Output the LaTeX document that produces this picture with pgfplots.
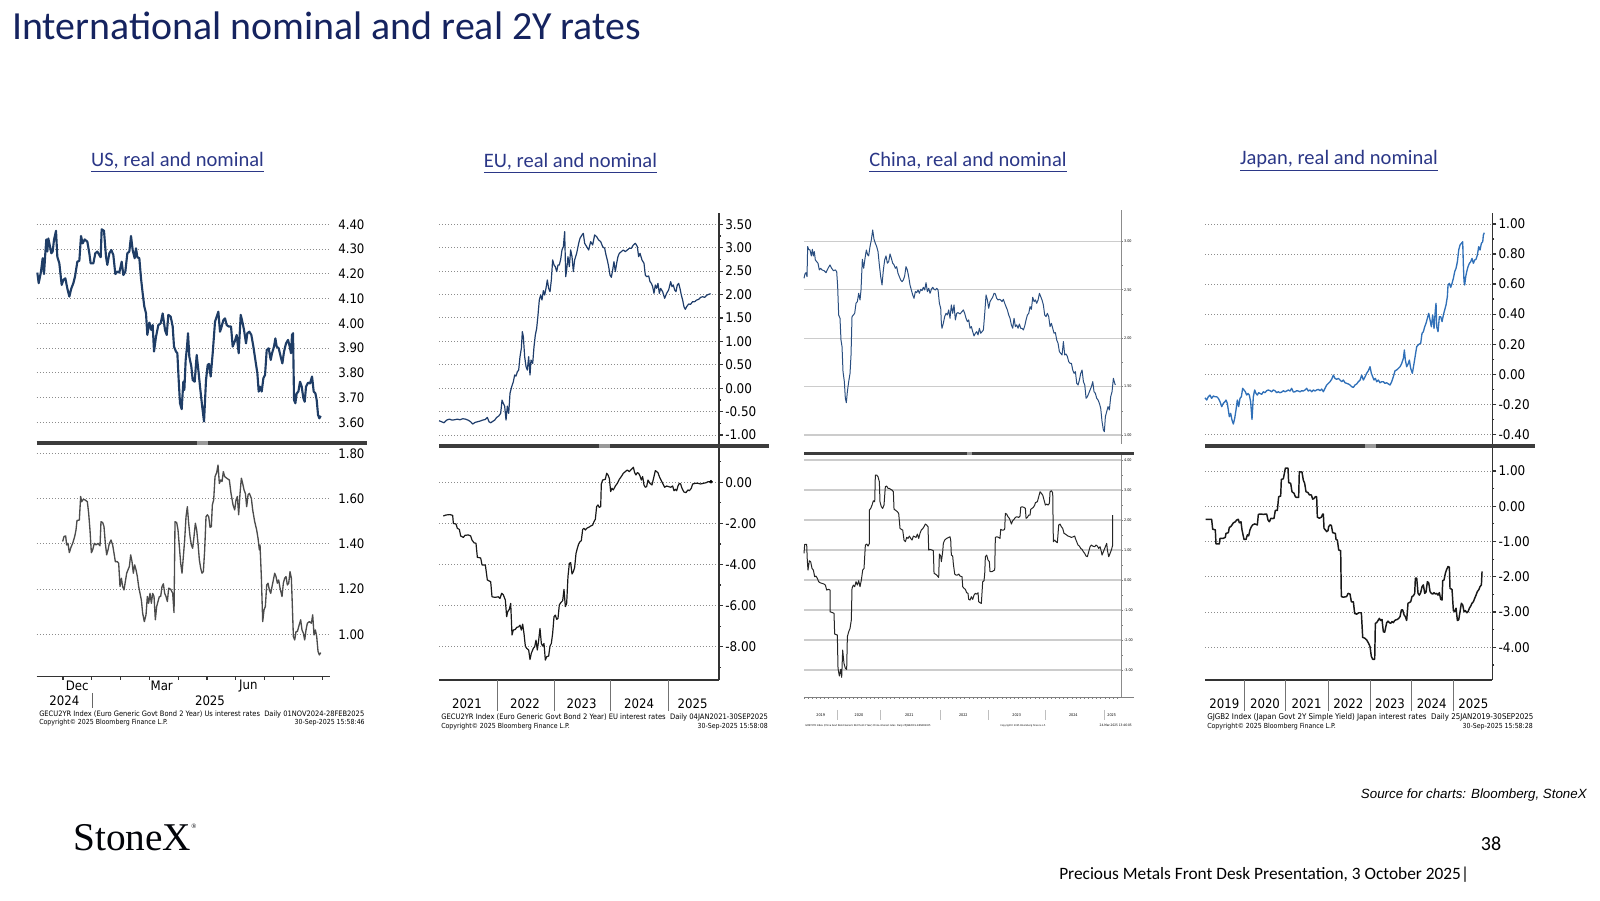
\documentclass[border=0pt]{standalone}
\usepackage{fontspec}
\usepackage{graphicx}
\usepackage{pgfplots}
\pgfplotsset{compat=1.18}
\setmainfont{Carlito}
\newfontfamily\bbg{DejaVu Sans}[FakeStretch=0.9]
\newfontfamily\arialf{Liberation Sans}
\newfontfamily\tnr{Liberation Serif}
\definecolor{navy}{HTML}{15235F}
\definecolor{subblue}{HTML}{2B3787}
\definecolor{usblue}{HTML}{1F3D66}
\definecolor{eublue}{HTML}{1F3D6B}
\definecolor{cnblue}{HTML}{2A4E80}
\definecolor{jpblue}{HTML}{3070B8}
\definecolor{axisgray}{HTML}{333333}
\definecolor{sepgray}{HTML}{3C3C3C}
\pgfplotsset{
  bb/.style={
    scale only axis, clip=false,
    axis line style={draw=none},
    xtick=\empty,
    ytick pos=right, yticklabel pos=right,
    tick align=outside,
    ymajorgrids,
    grid style={color=black!45, line width=0.7pt, dash pattern=on 0.7pt off 1.6pt},
    /pgf/number format/fixed, /pgf/number format/fixed zerofill,
    /pgf/number format/precision=2, /pgf/number format/assume math mode=true,
    yticklabel style={anchor=west, inner sep=0pt},
    tick style={color=axisgray, line width=0.9pt},
    major tick length=3pt, minor tick length=1.5pt,
  },
}
\begin{document}
\begin{tikzpicture}
\path (0,0) rectangle (1200pt,675pt);

% ================= US =================
\begin{axis}[bb, at={(27.53pt,347.14pt)}, anchor=south west, width=219.98pt, height=168.9pt,
  xmin=0.087, xmax=10.27, ymin=3.54, ymax=4.45,
  ytick={3.6,3.7,3.8,3.9,4.0,4.1,4.2,4.3,4.4}, ytick style={draw=none}, major tick length=0pt,
  yticklabel style={font=\bbg\fontsize{9.8}{10}\selectfont, xshift=6pt}]
\addplot[usblue, line width=1.6pt, line join=round] coordinates {
(0.109,4.205)(0.155,4.162)(0.236,4.209)(0.294,4.263)(0.340,4.199)(0.386,4.283)(0.421,4.339)(0.456,4.290)(0.491,4.343)(0.548,4.310)(0.595,4.283)(0.641,4.290)(0.687,4.337)(0.757,4.374)(0.803,4.269)(0.873,4.242)(0.954,4.155)(1.011,4.175)(1.081,4.182)(1.150,4.141)(1.220,4.108)(1.289,4.141)(1.359,4.162)(1.417,4.189)(1.498,4.249)(1.567,4.253)(1.625,4.353)(1.683,4.323)(1.752,4.339)(1.845,4.330)(1.914,4.283)(1.960,4.242)(2.053,4.242)(2.122,4.283)(2.192,4.290)(2.261,4.276)(2.308,4.267)(2.342,4.380)(2.423,4.374)(2.493,4.269)(2.539,4.236)(2.609,4.283)(2.678,4.296)(2.747,4.276)(2.817,4.199)(2.886,4.209)(2.956,4.205)(3.037,4.249)(3.095,4.195)(3.164,4.209)(3.234,4.283)(3.303,4.290)(3.361,4.353)(3.419,4.296)(3.488,4.263)(3.535,4.303)(3.581,4.267)(3.650,4.263)(3.708,4.182)(3.766,4.121)(3.824,4.067)(3.882,4.040)(3.928,3.953)(3.998,4.003)(4.067,3.973)(4.113,3.993)(4.160,3.886)(4.229,3.946)(4.310,3.993)(4.391,4.000)(4.461,4.040)(4.542,3.973)(4.600,3.953)(4.657,4.034)(4.738,4.027)(4.808,3.987)(4.854,3.906)(4.923,3.886)(4.970,3.879)(5.016,3.771)(5.062,3.677)(5.120,3.653)(5.178,3.764)(5.213,3.731)(5.259,3.852)(5.306,3.906)(5.340,3.960)(5.386,3.865)(5.456,3.825)(5.502,3.771)(5.572,3.764)(5.641,3.872)(5.699,3.811)(5.757,3.744)(5.826,3.670)(5.896,3.603)(5.965,3.771)(6.023,3.832)(6.069,3.836)(6.127,3.785)(6.197,3.879)(6.278,4.007)(6.336,4.027)(6.393,4.047)(6.451,3.966)(6.509,3.987)(6.567,4.013)(6.625,4.020)(6.683,3.993)(6.752,3.987)(6.833,3.987)(6.891,3.906)(6.961,3.926)(7.030,3.953)(7.099,3.879)(7.169,4.034)(7.215,4.013)(7.285,3.973)(7.354,3.919)(7.400,3.960)(7.470,3.966)(7.539,3.953)(7.609,3.906)(7.678,3.852)(7.748,3.798)(7.794,3.724)(7.840,3.744)(7.898,3.724)(7.956,3.778)(8.014,3.791)(8.072,3.892)(8.141,3.899)(8.211,3.852)(8.257,3.879)(8.326,3.906)(8.373,3.939)(8.419,3.906)(8.488,3.899)(8.558,3.865)(8.616,3.838)(8.674,3.886)(8.743,3.919)(8.813,3.933)(8.870,3.906)(8.916,3.879)(8.951,3.953)(8.986,3.960)(9.021,3.690)(9.067,3.677)(9.113,3.717)(9.171,3.724)(9.229,3.764)(9.287,3.744)(9.345,3.697)(9.391,3.683)(9.437,3.744)(9.507,3.760)(9.576,3.757)(9.646,3.785)(9.704,3.724)(9.762,3.717)(9.808,3.690)(9.854,3.630)(9.900,3.616)(9.947,3.626)};
\end{axis}

\begin{axis}[bb, at={(27.53pt,167.48pt)}, anchor=south west, width=219.98pt, height=172.3pt,
  xmin=0.087, xmax=10.27, ymin=0.8126, ymax=1.828,
  ytick={1.0,1.2,1.4,1.6,1.8}, ytick style={draw=none}, major tick length=0pt,
  yticklabel style={font=\bbg\fontsize{9.8}{10}\selectfont, xshift=6pt}]
\draw[axisgray, line width=1pt] (rel axis cs:0,0) -- (rel axis cs:1,0);
\pgfplotsinvokeforeach{1,...,10}{\draw[axisgray, line width=0.8pt] (axis cs:#1,0.8126) -- ++(0pt,-2.5pt);}
\addplot[black!70, line width=1pt, line join=round] coordinates {
(0.988,1.410)(1.035,1.432)(1.092,1.435)(1.127,1.395)(1.173,1.402)(1.220,1.361)(1.278,1.385)(1.336,1.402)(1.405,1.432)(1.451,1.461)(1.486,1.503)(1.567,1.505)(1.613,1.609)(1.648,1.586)(1.706,1.597)(1.764,1.594)(1.845,1.586)(1.891,1.535)(1.937,1.461)(1.984,1.361)(2.030,1.373)(2.088,1.402)(2.146,1.395)(2.215,1.402)(2.285,1.391)(2.319,1.498)(2.377,1.494)(2.423,1.476)(2.470,1.402)(2.516,1.351)(2.562,1.373)(2.609,1.402)(2.667,1.417)(2.724,1.395)(2.771,1.358)(2.817,1.321)(2.886,1.321)(2.933,1.314)(2.979,1.211)(3.025,1.248)(3.072,1.211)(3.118,1.196)(3.164,1.233)(3.211,1.270)(3.257,1.285)(3.303,1.299)(3.350,1.351)(3.396,1.321)(3.442,1.270)(3.488,1.307)(3.535,1.285)(3.581,1.255)(3.627,1.211)(3.674,1.181)(3.720,1.152)(3.766,1.093)(3.824,1.056)(3.882,1.086)(3.928,1.167)(3.974,1.137)(4.021,1.181)(4.067,1.137)(4.113,1.181)(4.160,1.167)(4.206,1.064)(4.252,1.123)(4.298,1.145)(4.345,1.167)(4.391,1.167)(4.437,1.211)(4.484,1.223)(4.530,1.181)(4.576,1.167)(4.623,1.145)(4.669,1.204)(4.738,1.199)(4.808,1.181)(4.854,1.096)(4.889,1.498)(4.947,1.494)(4.993,1.461)(5.039,1.388)(5.086,1.314)(5.132,1.270)(5.178,1.343)(5.224,1.417)(5.271,1.520)(5.317,1.564)(5.363,1.491)(5.410,1.432)(5.456,1.395)(5.502,1.380)(5.548,1.432)(5.595,1.491)(5.641,1.461)(5.687,1.402)(5.734,1.329)(5.780,1.292)(5.826,1.270)(5.873,1.277)(5.919,1.373)(5.965,1.520)(6.011,1.528)(6.058,1.520)(6.104,1.473)(6.150,1.476)(6.185,1.572)(6.231,1.594)(6.278,1.697)(6.336,1.715)(6.382,1.748)(6.428,1.667)(6.474,1.682)(6.521,1.675)(6.567,1.719)(6.613,1.697)(6.683,1.690)(6.775,1.682)(6.833,1.623)(6.903,1.572)(6.961,1.550)(7.007,1.594)(7.053,1.609)(7.099,1.528)(7.146,1.623)(7.192,1.690)(7.238,1.667)(7.285,1.638)(7.331,1.623)(7.377,1.564)(7.424,1.616)(7.470,1.623)(7.539,1.601)(7.585,1.550)(7.655,1.498)(7.724,1.461)(7.771,1.424)(7.817,1.373)(7.840,1.395)(7.886,1.255)(7.933,1.056)(7.979,1.108)(8.025,1.123)(8.072,1.218)(8.118,1.226)(8.164,1.196)(8.211,1.181)(8.257,1.211)(8.303,1.240)(8.350,1.270)(8.396,1.255)(8.442,1.226)(8.488,1.240)(8.535,1.204)(8.604,1.167)(8.650,1.226)(8.697,1.248)(8.743,1.255)(8.789,1.218)(8.836,1.226)(8.882,1.277)(8.928,1.248)(8.951,1.167)(8.998,0.990)(9.044,0.975)(9.090,1.012)(9.137,1.012)(9.183,1.034)(9.252,1.064)(9.298,1.019)(9.345,1.005)(9.391,0.975)(9.437,1.019)(9.484,1.049)(9.553,1.056)(9.623,1.049)(9.669,1.086)(9.715,0.997)(9.762,1.019)(9.808,0.990)(9.854,0.924)(9.900,0.909)(9.947,0.919)};
\end{axis}

% ================= EU =================
\begin{axis}[bb, at={(329.25pt,341.7pt)}, anchor=south west, width=210pt, height=173.5pt,
  xmin=2020.977, xmax=2025.890, ymin=-1.20, ymax=3.74,
  ytick={-1,-0.5,0,0.5,1,1.5,2,2.5,3,3.5}, minor y tick num=1,
  yticklabel style={font=\bbg\fontsize{10}{11}\selectfont, xshift=1.5pt}]
\draw[axisgray, line width=1.1pt] (rel axis cs:1,0) -- (rel axis cs:1,1);
\addplot[eublue, line width=0.9pt, line join=round] coordinates {
(2020.977,-0.695)(2021.024,-0.717)(2021.065,-0.738)(2021.112,-0.681)(2021.159,-0.660)(2021.205,-0.681)(2021.252,-0.674)(2021.299,-0.660)(2021.346,-0.674)(2021.393,-0.652)(2021.439,-0.660)(2021.486,-0.681)(2021.533,-0.717)(2021.568,-0.766)(2021.609,-0.731)(2021.650,-0.717)(2021.697,-0.702)(2021.743,-0.681)(2021.790,-0.667)(2021.825,-0.624)(2021.855,-0.717)(2021.884,-0.738)(2021.919,-0.709)(2021.954,-0.681)(2021.989,-0.624)(2022.024,-0.595)(2022.059,-0.538)(2022.083,-0.254)(2022.106,-0.325)(2022.129,-0.382)(2022.153,-0.681)(2022.176,-0.382)(2022.200,-0.538)(2022.223,-0.111)(2022.252,0.031)(2022.281,0.138)(2022.305,0.281)(2022.328,0.259)(2022.352,0.352)(2022.375,0.387)(2022.398,0.672)(2022.422,0.850)(2022.439,1.207)(2022.457,1.100)(2022.480,0.672)(2022.504,0.459)(2022.527,0.387)(2022.550,0.672)(2022.574,0.281)(2022.591,0.601)(2022.621,0.530)(2022.644,0.886)(2022.667,1.135)(2022.691,1.278)(2022.714,1.563)(2022.737,1.883)(2022.761,1.990)(2022.784,1.883)(2022.808,2.083)(2022.831,1.990)(2022.854,2.132)(2022.878,2.311)(2022.901,2.132)(2022.925,2.061)(2022.948,2.311)(2022.971,2.738)(2022.995,2.631)(2023.018,2.595)(2023.042,2.489)(2023.065,2.631)(2023.088,2.631)(2023.112,2.752)(2023.135,2.952)(2023.159,3.023)(2023.182,3.343)(2023.200,2.382)(2023.217,2.524)(2023.240,2.809)(2023.264,2.595)(2023.287,2.952)(2023.311,2.809)(2023.334,2.489)(2023.357,2.738)(2023.392,2.880)(2023.428,3.094)(2023.451,3.201)(2023.486,3.272)(2023.509,3.308)(2023.533,3.094)(2023.568,3.023)(2023.603,2.952)(2023.638,3.130)(2023.673,3.058)(2023.708,3.272)(2023.743,3.236)(2023.778,3.165)(2023.814,3.130)(2023.849,3.023)(2023.884,2.987)(2023.907,2.845)(2023.930,2.738)(2023.954,2.595)(2023.977,2.417)(2024.001,2.368)(2024.024,2.524)(2024.047,2.702)(2024.071,2.489)(2024.094,2.667)(2024.117,2.809)(2024.141,2.880)(2024.176,2.916)(2024.211,2.952)(2024.246,2.916)(2024.281,2.952)(2024.316,2.987)(2024.352,2.987)(2024.387,3.058)(2024.422,3.094)(2024.457,3.023)(2024.480,2.809)(2024.504,2.880)(2024.539,2.738)(2024.574,2.667)(2024.597,2.417)(2024.620,2.382)(2024.656,2.396)(2024.679,2.275)(2024.703,2.239)(2024.726,2.168)(2024.749,2.026)(2024.773,2.204)(2024.796,2.132)(2024.819,2.239)(2024.843,2.026)(2024.866,2.132)(2024.901,2.061)(2024.936,1.919)(2024.971,2.026)(2025.006,2.097)(2025.042,2.275)(2025.065,2.168)(2025.088,2.204)(2025.112,2.097)(2025.135,2.061)(2025.158,2.204)(2025.182,2.239)(2025.205,2.132)(2025.229,1.990)(2025.252,1.883)(2025.275,1.741)(2025.299,1.684)(2025.322,1.741)(2025.357,1.798)(2025.392,1.791)(2025.427,1.848)(2025.463,1.848)(2025.498,1.883)(2025.533,1.897)(2025.568,1.940)(2025.603,1.954)(2025.638,1.940)(2025.673,1.983)(2025.708,2.004)(2025.743,2.019)};
\end{axis}

\begin{axis}[bb, at={(329.25pt,165pt)}, anchor=south west, width=210pt, height=174pt,
  xmin=2020.977, xmax=2025.890, ymin=-9.62, ymax=1.67,
  ytick={-8,-6,-4,-2,0}, minor ytick={-9,-7,-5,-3,-1,1},
  yticklabel style={font=\bbg\fontsize{10}{11}\selectfont, xshift=1.5pt}]
\draw[axisgray, line width=1.1pt] (rel axis cs:1,0) -- (rel axis cs:1,1);
\draw[axisgray, line width=1.1pt] (rel axis cs:0,0) -- (rel axis cs:1,0);
\addplot[black!90, line width=0.9pt, line join=round] coordinates {
(2021.053,-1.64)(2021.100,-1.59)(2021.170,-1.57)(2021.217,-1.61)(2021.229,-2.00)(2021.276,-2.03)(2021.299,-2.24)(2021.334,-2.29)(2021.357,-2.61)(2021.404,-2.68)(2021.433,-2.58)(2021.492,-2.56)(2021.533,-2.61)(2021.556,-2.81)(2021.591,-2.94)(2021.626,-2.97)(2021.650,-3.65)(2021.708,-3.68)(2021.732,-4.02)(2021.790,-4.02)(2021.825,-4.75)(2021.884,-4.84)(2021.907,-5.57)(2021.960,-5.60)(2022.018,-5.57)(2022.047,-5.65)(2022.077,-5.40)(2022.106,-5.48)(2022.141,-5.73)(2022.164,-6.54)(2022.182,-6.30)(2022.211,-6.18)(2022.235,-5.89)(2022.258,-7.43)(2022.281,-7.19)(2022.316,-7.16)(2022.340,-7.06)(2022.375,-7.03)(2022.398,-6.95)(2022.422,-7.19)(2022.445,-6.90)(2022.469,-7.38)(2022.492,-7.97)(2022.515,-8.08)(2022.550,-8.16)(2022.574,-8.62)(2022.597,-8.32)(2022.632,-8.08)(2022.656,-8.00)(2022.679,-7.68)(2022.702,-8.16)(2022.726,-7.68)(2022.749,-7.11)(2022.773,-7.84)(2022.796,-7.97)(2022.819,-7.84)(2022.843,-8.65)(2022.866,-8.49)(2022.901,-8.45)(2022.925,-7.97)(2022.948,-7.84)(2022.971,-7.35)(2022.995,-6.54)(2023.018,-6.46)(2023.042,-6.67)(2023.065,-6.62)(2023.088,-5.97)(2023.112,-5.86)(2023.147,-5.76)(2023.170,-5.21)(2023.194,-6.05)(2023.217,-5.89)(2023.240,-4.59)(2023.264,-3.94)(2023.287,-3.91)(2023.311,-4.46)(2023.334,-4.35)(2023.357,-4.14)(2023.381,-3.46)(2023.404,-3.21)(2023.428,-3.00)(2023.451,-2.89)(2023.474,-2.84)(2023.498,-2.29)(2023.521,-2.24)(2023.545,-2.32)(2023.568,-2.24)(2023.603,-2.19)(2023.638,-2.13)(2023.673,-2.08)(2023.697,-1.91)(2023.720,-1.80)(2023.743,-1.18)(2023.767,-1.10)(2023.790,-1.22)(2023.814,-1.18)(2023.825,-0.08)(2023.849,0.11)(2023.895,0.15)(2023.919,0.44)(2023.942,0.36)(2023.966,0.19)(2023.989,-0.45)(2024.012,-0.29)(2024.036,-0.37)(2024.071,-0.18)(2024.106,-0.05)(2024.141,0.15)(2024.176,0.28)(2024.211,0.44)(2024.246,0.52)(2024.281,0.60)(2024.316,0.52)(2024.352,0.63)(2024.387,0.73)(2024.410,0.47)(2024.433,0.36)(2024.457,0.47)(2024.480,0.44)(2024.504,0.31)(2024.527,0.11)(2024.550,0.28)(2024.574,-0.13)(2024.597,-0.24)(2024.620,-0.21)(2024.644,0.11)(2024.679,-0.05)(2024.714,-0.13)(2024.749,0.28)(2024.773,0.57)(2024.796,0.52)(2024.819,0.47)(2024.843,0.28)(2024.878,0.08)(2024.901,-0.05)(2024.936,-0.24)(2024.971,-0.18)(2025.006,-0.21)(2025.042,-0.24)(2025.077,-0.18)(2025.100,-0.41)(2025.123,-0.34)(2025.147,-0.41)(2025.170,-0.18)(2025.194,-0.05)(2025.217,-0.08)(2025.240,-0.29)(2025.275,-0.47)(2025.310,-0.50)(2025.346,-0.37)(2025.369,-0.41)(2025.404,-0.29)(2025.427,-0.08)(2025.474,-0.05)(2025.521,-0.05)(2025.568,-0.08)(2025.615,-0.05)(2025.661,-0.02)(2025.697,0.03)(2025.749,0.03)};
\addplot[only marks, mark=*, mark size=1.1pt, black] coordinates {(2025.749,0.03)};
\end{axis}

% ================= China =================
\begin{axis}[bb, at={(603pt,342pt)}, anchor=south west, width=238.3pt, height=175.5pt,
  xmin=2019, xmax=2025.426, ymin=0.907, ymax=3.323,
  ytick={1,1.5,2,2.5,3}, minor y tick num=1,
  grid style={color=black!20, line width=0.9pt, solid},
  major tick length=1.3pt, minor tick length=0.8pt, tick style={color=black!50, line width=0.4pt},
  yticklabel style={font=\bbg\fontsize{2.8}{3}\selectfont, xshift=0.3pt}]
\draw[black!45, line width=0.6pt] (rel axis cs:1,0) -- (rel axis cs:1,1);
\addplot[cnblue, line width=0.75pt, line join=round] coordinates {
(2019.000,2.618)(2019.020,2.663)(2019.040,2.676)(2019.061,2.635)(2019.074,2.945)(2019.094,2.917)(2019.121,2.910)(2019.148,2.849)(2019.169,2.917)(2019.189,2.849)(2019.209,2.893)(2019.229,2.807)(2019.256,2.790)(2019.283,2.773)(2019.310,2.704)(2019.337,2.721)(2019.364,2.704)(2019.405,2.697)(2019.445,2.676)(2019.486,2.721)(2019.526,2.756)(2019.560,2.721)(2019.593,2.697)(2019.634,2.704)(2019.661,2.687)(2019.681,2.532)(2019.701,2.239)(2019.728,2.205)(2019.748,1.981)(2019.769,1.912)(2019.789,1.654)(2019.816,1.551)(2019.836,1.379)(2019.856,1.334)(2019.877,1.447)(2019.904,1.551)(2019.931,1.637)(2019.951,1.826)(2019.971,2.222)(2019.998,2.239)(2020.025,2.256)(2020.052,2.360)(2020.079,2.377)(2020.106,2.463)(2020.133,2.394)(2020.153,2.497)(2020.180,2.814)(2020.207,2.721)(2020.234,2.824)(2020.261,2.910)(2020.288,2.859)(2020.308,2.849)(2020.335,2.945)(2020.362,3.014)(2020.389,3.117)(2020.416,3.021)(2020.443,2.979)(2020.470,2.945)(2020.497,2.893)(2020.524,2.756)(2020.551,2.635)(2020.578,2.549)(2020.605,2.704)(2020.632,2.807)(2020.659,2.849)(2020.686,2.773)(2020.713,2.790)(2020.740,2.869)(2020.767,2.824)(2020.794,2.773)(2020.821,2.756)(2020.848,2.721)(2020.874,2.738)(2020.901,2.670)(2020.928,2.635)(2020.955,2.601)(2020.982,2.583)(2021.009,2.601)(2021.036,2.642)(2021.063,2.738)(2021.090,2.704)(2021.117,2.635)(2021.144,2.549)(2021.171,2.497)(2021.198,2.446)(2021.225,2.411)(2021.252,2.480)(2021.279,2.470)(2021.306,2.497)(2021.333,2.463)(2021.360,2.504)(2021.387,2.491)(2021.414,2.525)(2021.441,2.497)(2021.468,2.573)(2021.495,2.480)(2021.522,2.515)(2021.549,2.463)(2021.576,2.504)(2021.603,2.525)(2021.630,2.504)(2021.657,2.497)(2021.684,2.515)(2021.711,2.497)(2021.738,2.360)(2021.765,2.308)(2021.778,2.153)(2021.791,2.102)(2021.818,2.153)(2021.845,2.222)(2021.872,2.256)(2021.899,2.239)(2021.926,2.291)(2021.953,2.205)(2021.980,2.343)(2022.007,2.256)(2022.034,2.343)(2022.061,2.188)(2022.088,2.256)(2022.115,2.263)(2022.156,2.250)(2022.196,2.274)(2022.223,2.291)(2022.250,2.256)(2022.277,2.205)(2022.304,2.170)(2022.331,2.188)(2022.358,2.102)(2022.385,2.119)(2022.412,2.067)(2022.439,2.022)(2022.466,2.050)(2022.493,2.067)(2022.520,2.033)(2022.547,2.102)(2022.574,2.050)(2022.601,2.067)(2022.628,2.084)(2022.655,2.256)(2022.682,2.446)(2022.709,2.394)(2022.735,2.308)(2022.762,2.377)(2022.789,2.401)(2022.816,2.422)(2022.843,2.463)(2022.870,2.456)(2022.897,2.411)(2022.924,2.394)(2022.951,2.401)(2022.978,2.394)(2023.005,2.377)(2023.032,2.401)(2023.059,2.360)(2023.086,2.325)(2023.113,2.291)(2023.140,2.239)(2023.167,2.205)(2023.194,2.136)(2023.221,2.102)(2023.248,2.205)(2023.275,2.119)(2023.302,2.136)(2023.329,2.102)(2023.356,2.146)(2023.383,2.102)(2023.410,2.102)(2023.437,2.084)(2023.464,2.126)(2023.491,2.188)(2023.518,2.239)(2023.545,2.256)(2023.572,2.325)(2023.599,2.298)(2023.626,2.422)(2023.653,2.377)(2023.680,2.394)(2023.707,2.360)(2023.734,2.394)(2023.761,2.463)(2023.787,2.429)(2023.814,2.394)(2023.841,2.343)(2023.868,2.239)(2023.895,2.222)(2023.922,2.256)(2023.949,2.222)(2023.976,2.119)(2024.003,2.153)(2024.030,2.102)(2024.057,2.050)(2024.084,2.057)(2024.111,1.981)(2024.138,1.947)(2024.165,1.861)(2024.192,1.843)(2024.219,1.826)(2024.246,1.964)(2024.273,1.826)(2024.300,1.836)(2024.327,1.809)(2024.354,1.757)(2024.381,1.740)(2024.408,1.740)(2024.435,1.671)(2024.462,1.637)(2024.489,1.654)(2024.516,1.534)(2024.543,1.516)(2024.570,1.568)(2024.597,1.637)(2024.624,1.671)(2024.651,1.551)(2024.678,1.516)(2024.705,1.379)(2024.732,1.396)(2024.759,1.430)(2024.786,1.465)(2024.813,1.499)(2024.840,1.551)(2024.866,1.447)(2024.893,1.430)(2024.920,1.379)(2024.947,1.361)(2024.974,1.327)(2025.001,1.275)(2025.028,1.138)(2025.055,1.052)(2025.075,1.034)(2025.095,1.189)(2025.122,1.241)(2025.149,1.293)(2025.176,1.258)(2025.203,1.396)(2025.230,1.447)(2025.257,1.585)(2025.284,1.534)(2025.297,1.516)};
\end{axis}

\begin{axis}[bb, at={(603pt,151.7pt)}, anchor=south west, width=238.3pt, height=182pt,
  xmin=2019, xmax=2025.426, ymin=-3.923, ymax=4.167,
  ytick={-3,-2,-1,0,1,2,3,4}, minor y tick num=1,
  grid style={color=black!20, line width=0.9pt, solid},
  major tick length=1.3pt, minor tick length=0.8pt, tick style={color=black!50, line width=0.4pt},
  yticklabel style={font=\bbg\fontsize{2.8}{3}\selectfont, xshift=0.3pt}]
\draw[black!45, line width=0.6pt] (rel axis cs:1,0) -- (rel axis cs:1,1);
\draw[black!50, line width=0.7pt] (rel axis cs:0,0) -- (rel axis cs:1.04,0);
\pgfplotsinvokeforeach{0,...,76}{\draw[black!50, line width=0.35pt] (axis cs:{2019+#1/12},-3.923) ++(0pt,0.7pt) -- ++(0pt,-1.6pt);}
\addplot[black!85, line width=0.75pt, line join=round] coordinates {
(2019.000,0.889)(2019.014,1.189)(2019.054,1.189)(2019.067,0.644)(2019.081,0.333)(2019.108,0.644)(2019.135,0.611)(2019.162,0.389)(2019.189,0.333)(2019.216,0.111)(2019.243,0.133)(2019.270,0.056)(2019.297,-0.056)(2019.324,-0.089)(2019.364,-0.111)(2019.405,-0.133)(2019.432,-0.167)(2019.459,-0.333)(2019.499,-0.311)(2019.526,-0.333)(2019.526,-1.056)(2019.580,-1.089)(2019.607,-1.111)(2019.620,-1.800)(2019.674,-1.833)(2019.688,-2.944)(2019.715,-3.200)(2019.742,-2.978)(2019.762,-3.244)(2019.782,-2.333)(2019.809,-2.778)(2019.836,-2.944)(2019.863,-2.978)(2019.877,-1.889)(2019.904,-1.722)(2019.931,-1.611)(2019.957,-1.333)(2019.971,-0.278)(2019.998,-0.167)(2020.025,-0.222)(2020.052,-0.056)(2020.079,-0.167)(2020.106,-0.022)(2020.133,-0.222)(2020.160,0.000)(2020.187,0.333)(2020.214,0.389)(2020.241,1.167)(2020.268,1.200)(2020.295,1.133)(2020.322,1.222)(2020.322,2.333)(2020.349,2.389)(2020.376,2.500)(2020.403,2.644)(2020.430,2.611)(2020.443,3.500)(2020.470,3.500)(2020.497,3.444)(2020.524,3.278)(2020.537,2.611)(2020.564,2.444)(2020.591,2.389)(2020.618,2.500)(2020.645,3.111)(2020.672,3.133)(2020.699,3.056)(2020.726,3.056)(2020.753,3.022)(2020.780,3.000)(2020.807,2.944)(2020.821,2.356)(2020.848,2.333)(2020.888,2.278)(2020.915,2.222)(2020.942,1.722)(2020.969,1.689)(2020.996,1.667)(2021.023,1.333)(2021.050,1.278)(2021.077,1.422)(2021.104,1.389)(2021.131,1.467)(2021.158,1.389)(2021.185,1.333)(2021.212,1.467)(2021.239,1.444)(2021.266,1.422)(2021.293,1.533)(2021.320,1.389)(2021.346,1.556)(2021.373,1.667)(2021.400,1.711)(2021.427,1.778)(2021.454,1.867)(2021.481,1.833)(2021.508,1.778)(2021.522,1.000)(2021.549,1.022)(2021.589,1.000)(2021.616,0.978)(2021.630,0.222)(2021.657,0.200)(2021.684,0.167)(2021.711,0.111)(2021.724,0.089)(2021.738,0.867)(2021.765,0.800)(2021.778,0.611)(2021.805,0.944)(2021.818,1.222)(2021.845,1.333)(2021.886,1.389)(2021.926,1.422)(2021.953,1.444)(2021.967,1.333)(2021.980,0.833)(2022.007,0.800)(2022.021,0.533)(2022.048,0.200)(2022.075,0.167)(2022.102,0.167)(2022.129,0.200)(2022.156,0.133)(2022.196,0.111)(2022.210,-0.222)(2022.237,-0.278)(2022.264,-0.311)(2022.290,-0.422)(2022.317,-0.444)(2022.331,-0.644)(2022.358,-0.667)(2022.385,-0.556)(2022.412,-0.644)(2022.439,-0.500)(2022.466,-0.444)(2022.493,-0.467)(2022.520,-0.422)(2022.533,-0.722)(2022.560,-0.756)(2022.587,-0.778)(2022.614,-0.056)(2022.641,-0.022)(2022.655,0.222)(2022.668,0.778)(2022.695,0.833)(2022.722,0.667)(2022.749,0.611)(2022.762,0.278)(2022.803,0.278)(2022.830,0.311)(2022.857,0.333)(2022.870,1.422)(2022.897,1.444)(2022.937,1.422)(2022.964,1.389)(2022.978,1.689)(2023.005,1.667)(2023.032,1.667)(2023.059,1.689)(2023.072,2.222)(2023.099,2.200)(2023.126,2.111)(2023.153,2.056)(2023.180,1.944)(2023.194,1.867)(2023.221,1.978)(2023.248,2.022)(2023.275,2.089)(2023.302,2.111)(2023.342,2.089)(2023.369,2.133)(2023.383,2.422)(2023.410,2.444)(2023.450,2.422)(2023.477,2.389)(2023.491,2.056)(2023.518,2.089)(2023.545,2.167)(2023.572,2.167)(2023.585,2.356)(2023.612,2.389)(2023.639,2.422)(2023.666,2.500)(2023.680,2.578)(2023.720,2.611)(2023.747,2.778)(2023.774,2.944)(2023.801,2.889)(2023.828,2.833)(2023.855,2.667)(2023.882,2.500)(2023.909,2.533)(2023.936,2.500)(2023.963,2.556)(2023.976,2.944)(2024.003,2.978)(2024.030,2.911)(2024.043,1.278)(2024.070,1.333)(2024.097,1.278)(2024.124,1.244)(2024.151,1.833)(2024.178,1.867)(2024.205,1.778)(2024.232,1.722)(2024.259,1.556)(2024.286,1.533)(2024.313,1.500)(2024.340,1.467)(2024.381,1.444)(2024.408,1.422)(2024.448,1.444)(2024.475,1.467)(2024.488,1.389)(2024.515,1.278)(2024.542,1.167)(2024.569,1.133)(2024.596,1.056)(2024.623,1.022)(2024.650,0.944)(2024.677,0.889)(2024.704,0.800)(2024.731,0.778)(2024.758,0.944)(2024.785,1.111)(2024.812,1.167)(2024.839,1.133)(2024.879,1.111)(2024.906,1.167)(2024.933,1.133)(2024.960,1.056)(2024.987,1.111)(2025.014,0.944)(2025.028,0.833)(2025.055,0.944)(2025.082,1.056)(2025.109,1.167)(2025.122,1.222)(2025.136,1.000)(2025.163,0.778)(2025.190,0.889)(2025.216,1.000)(2025.243,1.167)(2025.243,2.167)};
\end{axis}

% ================= Japan =================
\begin{axis}[bb, at={(903.75pt,341.4pt)}, anchor=south west, width=215.5pt, height=173.6pt,
  xmin=2019.060, xmax=2025.933, ymin=-0.47, ymax=1.071,
  ytick={-0.4,-0.2,0,0.2,0.4,0.6,0.8,1.0}, minor y tick num=1,
  yticklabel style={font=\bbg\fontsize{10}{11}\selectfont, xshift=1.5pt}]
\draw[axisgray, line width=1.1pt] (rel axis cs:1,0) -- (rel axis cs:1,1);
\addplot[jpblue, line width=1pt, line join=round] coordinates {
(2019.060,-0.157)(2019.100,-0.172)(2019.140,-0.150)(2019.179,-0.139)(2019.219,-0.161)(2019.259,-0.145)(2019.299,-0.150)(2019.339,-0.150)(2019.379,-0.161)(2019.419,-0.183)(2019.459,-0.216)(2019.498,-0.194)(2019.538,-0.183)(2019.562,-0.172)(2019.594,-0.194)(2019.618,-0.239)(2019.642,-0.283)(2019.674,-0.261)(2019.706,-0.305)(2019.738,-0.332)(2019.770,-0.294)(2019.801,-0.239)(2019.833,-0.172)(2019.865,-0.216)(2019.897,-0.161)(2019.929,-0.150)(2019.961,-0.094)(2019.993,-0.105)(2020.025,-0.117)(2020.057,-0.139)(2020.089,-0.128)(2020.120,-0.139)(2020.152,-0.183)(2020.184,-0.301)(2020.216,-0.150)(2020.248,-0.105)(2020.280,-0.128)(2020.312,-0.139)(2020.344,-0.123)(2020.376,-0.128)(2020.416,-0.134)(2020.455,-0.117)(2020.495,-0.123)(2020.535,-0.110)(2020.575,-0.105)(2020.615,-0.110)(2020.655,-0.117)(2020.695,-0.105)(2020.734,-0.110)(2020.774,-0.123)(2020.814,-0.117)(2020.854,-0.123)(2020.894,-0.119)(2020.934,-0.110)(2020.974,-0.117)(2021.014,-0.112)(2021.053,-0.105)(2021.093,-0.112)(2021.133,-0.094)(2021.173,-0.119)(2021.213,-0.117)(2021.253,-0.110)(2021.293,-0.112)(2021.333,-0.117)(2021.372,-0.110)(2021.412,-0.112)(2021.452,-0.105)(2021.492,-0.094)(2021.532,-0.112)(2021.572,-0.105)(2021.612,-0.117)(2021.652,-0.105)(2021.691,-0.112)(2021.731,-0.105)(2021.771,-0.101)(2021.811,-0.110)(2021.851,-0.099)(2021.891,-0.117)(2021.931,-0.094)(2021.971,-0.072)(2022.010,-0.061)(2022.050,-0.050)(2022.090,-0.034)(2022.130,-0.006)(2022.170,-0.028)(2022.210,-0.034)(2022.250,-0.028)(2022.290,-0.039)(2022.329,-0.050)(2022.369,-0.039)(2022.409,-0.057)(2022.449,-0.061)(2022.489,-0.065)(2022.529,-0.072)(2022.569,-0.083)(2022.609,-0.088)(2022.648,-0.072)(2022.688,-0.065)(2022.728,-0.050)(2022.768,-0.039)(2022.808,-0.006)(2022.848,-0.039)(2022.888,-0.017)(2022.927,0.006)(2022.967,0.023)(2023.007,0.050)(2023.039,0.006)(2023.071,-0.017)(2023.103,-0.039)(2023.135,-0.028)(2023.167,-0.050)(2023.207,-0.039)(2023.246,-0.057)(2023.286,-0.050)(2023.326,-0.050)(2023.366,-0.061)(2023.406,-0.057)(2023.446,-0.065)(2023.486,-0.072)(2023.526,-0.050)(2023.565,-0.017)(2023.605,0.023)(2023.645,0.028)(2023.685,0.039)(2023.725,0.050)(2023.765,0.072)(2023.805,0.105)(2023.829,0.161)(2023.852,0.094)(2023.884,0.050)(2023.924,0.072)(2023.948,0.094)(2023.980,0.039)(2024.020,0.006)(2024.060,0.072)(2024.092,0.128)(2024.124,0.183)(2024.156,0.194)(2024.187,0.201)(2024.219,0.205)(2024.251,0.272)(2024.283,0.283)(2024.315,0.316)(2024.347,0.339)(2024.379,0.372)(2024.411,0.405)(2024.443,0.361)(2024.474,0.316)(2024.506,0.394)(2024.538,0.305)(2024.570,0.427)(2024.586,0.472)(2024.602,0.316)(2024.634,0.283)(2024.666,0.383)(2024.698,0.383)(2024.730,0.350)(2024.762,0.394)(2024.793,0.427)(2024.825,0.461)(2024.857,0.516)(2024.873,0.594)(2024.905,0.605)(2024.937,0.578)(2024.969,0.605)(2025.001,0.638)(2025.033,0.683)(2025.065,0.705)(2025.097,0.749)(2025.129,0.827)(2025.160,0.860)(2025.192,0.871)(2025.224,0.882)(2025.240,0.727)(2025.256,0.616)(2025.272,0.594)(2025.296,0.649)(2025.320,0.683)(2025.352,0.716)(2025.384,0.738)(2025.416,0.749)(2025.447,0.771)(2025.479,0.738)(2025.511,0.760)(2025.543,0.765)(2025.575,0.794)(2025.607,0.849)(2025.639,0.827)(2025.671,0.871)(2025.703,0.882)(2025.719,0.927)(2025.742,0.942)};
\end{axis}

\begin{axis}[bb, at={(903.75pt,165pt)}, anchor=south west, width=215.5pt, height=174pt,
  xmin=2019.060, xmax=2025.933, ymin=-4.927, ymax=1.652,
  ytick={-4,-3,-2,-1,0,1}, minor ytick={-4.5,-3.5,-2.5,-1.5,-0.5,0.5},
  yticklabel style={font=\bbg\fontsize{10}{11}\selectfont, xshift=1.5pt}]
\draw[axisgray, line width=1.1pt] (rel axis cs:1,0) -- (rel axis cs:1,1);
\draw[axisgray, line width=1.1pt] (rel axis cs:0,0) -- (rel axis cs:1,0);
\addplot[black!90, line width=1.1pt, line join=round] coordinates {
(2019.076,-0.37)(2019.219,-0.37)(2019.243,-0.65)(2019.307,-0.67)(2019.323,-1.07)(2019.403,-1.07)(2019.419,-0.91)(2019.498,-0.91)(2019.546,-0.88)(2019.562,-0.77)(2019.618,-0.75)(2019.642,-0.60)(2019.674,-0.58)(2019.706,-0.53)(2019.738,-0.47)(2019.785,-0.44)(2019.817,-0.39)(2019.857,-0.37)(2019.881,-0.47)(2019.921,-0.44)(2019.945,-0.67)(2019.993,-0.94)(2020.041,-0.94)(2020.073,-0.81)(2020.104,-0.84)(2020.136,-0.67)(2020.168,-0.58)(2020.200,-0.53)(2020.248,-0.50)(2020.312,-0.53)(2020.336,-0.23)(2020.392,-0.22)(2020.455,-0.23)(2020.535,-0.22)(2020.567,-0.39)(2020.599,-0.44)(2020.639,-0.34)(2020.679,-0.35)(2020.711,-0.34)(2020.742,-0.12)(2020.790,-0.12)(2020.822,0.27)(2020.870,0.29)(2020.886,0.76)(2020.934,0.78)(2020.982,1.08)(2021.045,1.08)(2021.061,0.67)(2021.109,0.65)(2021.141,0.41)(2021.189,0.37)(2021.221,0.27)(2021.253,0.25)(2021.300,0.25)(2021.316,0.98)(2021.380,0.97)(2021.412,0.74)(2021.444,0.65)(2021.476,0.41)(2021.524,0.39)(2021.556,0.32)(2021.604,0.32)(2021.636,0.20)(2021.667,0.22)(2021.699,0.27)(2021.731,0.27)(2021.747,-0.31)(2021.795,-0.34)(2021.843,-0.31)(2021.875,-0.22)(2021.891,-0.22)(2021.907,-0.63)(2021.939,-0.67)(2021.971,-0.72)(2022.002,-0.69)(2022.018,-0.58)(2022.050,-0.53)(2022.082,-0.54)(2022.114,-0.75)(2022.178,-0.77)(2022.194,-0.94)(2022.226,-0.96)(2022.258,-1.24)(2022.305,-1.26)(2022.321,-2.56)(2022.369,-2.58)(2022.449,-2.56)(2022.481,-2.47)(2022.529,-2.49)(2022.561,-2.71)(2022.609,-2.71)(2022.640,-3.04)(2022.688,-3.06)(2022.736,-3.02)(2022.800,-3.02)(2022.832,-3.72)(2022.880,-3.74)(2022.927,-3.79)(2022.975,-3.89)(2023.007,-3.98)(2023.039,-4.26)(2023.071,-4.34)(2023.119,-4.34)(2023.135,-3.32)(2023.167,-3.30)(2023.199,-3.24)(2023.230,-3.18)(2023.262,-3.24)(2023.294,-3.21)(2023.326,-3.56)(2023.358,-3.57)(2023.406,-3.30)(2023.438,-3.26)(2023.470,-3.30)(2023.502,-3.32)(2023.533,-3.27)(2023.565,-3.30)(2023.597,-3.24)(2023.629,-3.22)(2023.661,-3.21)(2023.693,-3.18)(2023.725,-3.13)(2023.757,-2.94)(2023.789,-2.94)(2023.821,-3.08)(2023.852,-3.13)(2023.884,-3.24)(2023.916,-2.75)(2023.948,-2.73)(2023.980,-2.71)(2024.012,-2.56)(2024.044,-2.54)(2024.076,-2.47)(2024.092,-2.04)(2024.124,-2.04)(2024.156,-2.47)(2024.187,-2.52)(2024.219,-2.45)(2024.251,-2.28)(2024.283,-2.23)(2024.315,-2.47)(2024.347,-2.43)(2024.379,-2.14)(2024.411,-2.17)(2024.443,-2.42)(2024.474,-2.47)(2024.506,-2.49)(2024.538,-2.45)(2024.570,-2.49)(2024.602,-2.47)(2024.634,-2.52)(2024.666,-2.45)(2024.698,-2.64)(2024.730,-2.66)(2024.746,-2.11)(2024.778,-2.09)(2024.809,-1.90)(2024.841,-1.79)(2024.873,-1.71)(2024.905,-1.73)(2024.921,-2.33)(2024.969,-2.36)(2025.001,-2.96)(2025.033,-2.99)(2025.065,-2.89)(2025.097,-3.24)(2025.129,-3.22)(2025.160,-2.99)(2025.192,-2.75)(2025.224,-2.80)(2025.256,-2.99)(2025.288,-2.96)(2025.320,-3.02)(2025.352,-2.99)(2025.384,-2.89)(2025.416,-2.83)(2025.447,-2.75)(2025.479,-2.71)(2025.511,-2.61)(2025.543,-2.52)(2025.575,-2.42)(2025.607,-2.37)(2025.639,-2.28)(2025.671,-2.23)(2025.687,-1.85)};
\end{axis}

% ================= decorations in pixel units (y downward) =================
\begin{scope}[x=0.75pt, y=-0.75pt, shift={(0pt,675pt)}]
\node[anchor=base west, inner sep=0pt, text=navy, font=\fontsize{29.9}{32}\selectfont] at (12,40) {International nominal and real 2Y rates};
\begin{scope}[every node/.style={anchor=base, inner sep=0pt, text=subblue, font=\fontsize{15.4}{17}\selectfont}]
\node at (177.5,167) {\underline{US, real and nominal}};
\node at (570.5,168) {\underline{EU, real and nominal}};
\node at (968,167) {\underline{China, real and nominal}};
\node at (1339,165) {\underline{Japan, real and nominal}};
\end{scope}
% separators
\draw[sepgray, line width=3pt] (36.7,443) -- (367,443);
\draw[black!40, line width=3pt] (196.7,443) -- (208.3,443);
\draw[sepgray, line width=3pt] (439,446) -- (769,446);
\draw[black!40, line width=3pt] (599,446) -- (610,446);
\draw[sepgray, line width=2.5pt] (804,453.3) -- (1134,453.3);
\draw[black!40, line width=2.5pt] (967,453.3) -- (972,453.3);
\draw[sepgray, line width=3pt] (1205,446) -- (1535,446);
\draw[black!40, line width=3pt] (1365,446) -- (1376,446);
% x labels
\begin{scope}[every node/.style={inner sep=0pt, font=\bbg\fontsize{9.8}{10}\selectfont}]
\node at (77.3,686.2) {Dec};
\node at (161.7,686.2) {Mar};
\node at (248.3,686.2) {Jun};
\node at (64.3,700.5) {2024};
\node at (210,700.5) {2025};
\node at (467,704) {2021};
\node at (525,704) {2022};
\node at (581.7,704) {2023};
\node at (639.2,704) {2024};
\node at (692.7,704) {2025};
\node at (1224.3,704) {2019};
\node at (1265,704) {2020};
\node at (1306.7,704) {2021};
\node at (1348.3,704) {2022};
\node at (1390,704) {2023};
\node at (1431.7,704) {2024};
\node at (1473.3,704) {2025};
\end{scope}
\draw[black!60, line width=0.6pt] (92.3,693) -- (92.3,708);
\foreach \xx in {497.3,554,610.7,668.3} {\draw[black!55, line width=0.7pt] (\xx,680) -- (\xx,711);}
\foreach \xx in {1244.3,1285.7,1328.3,1370,1411.7,1453.3} {\draw[black!55, line width=0.7pt] (\xx,680) -- (\xx,711);}
% China x labels (tiny)
\begin{scope}[every node/.style={inner sep=0pt, font=\bbg\fontsize{2.8}{3}\selectfont}]
\node at (820.7,715) {2019};
\node at (859,715) {2020};
\node at (909.3,715) {2021};
\node at (963.3,715) {2022};
\node at (1016.7,715) {2023};
\node at (1073.3,715) {2024};
\node at (1111.7,715) {2025};
\end{scope}
\foreach \xx in {837.3,880,940,988.3,1045,1104} {\draw[black!25, line width=0.5pt] (\xx,710) -- (\xx,720);}
% Bloomberg source lines
\node[anchor=base west, inner sep=0pt] at (39,717) {\resizebox{243.75pt}{!}{\bbg GECU2YR Index (Euro Generic Govt Bond 2 Year) Us interest rates\ \ Daily 01NOV2024-28FEB2025}};
\node[anchor=base west, inner sep=0pt, font=\bbg\fontsize{5.2}{6}\selectfont] at (39,725) {Copyright\textcopyright\ 2025 Bloomberg Finance L.P.};
\node[anchor=base east, inner sep=0pt, font=\bbg\fontsize{5.2}{6}\selectfont] at (365,725) {30-Sep-2025 15:58:46};
\node[anchor=base west, inner sep=0pt] at (441,720) {\resizebox{245pt}{!}{\bbg GECU2YR Index (Euro Generic Govt Bond 2 Year) EU interest rates\ \ Daily 04JAN2021-30SEP2025}};
\node[anchor=base west, inner sep=0pt, font=\bbg\fontsize{5.2}{6}\selectfont] at (441,729) {Copyright\textcopyright\ 2025 Bloomberg Finance L.P.};
\node[anchor=base east, inner sep=0pt, font=\bbg\fontsize{5.2}{6}\selectfont] at (768,729) {30-Sep-2025 15:58:08};
\node[anchor=base west, inner sep=0pt] at (1207,720) {\resizebox{244.5pt}{!}{\bbg GJGB2 Index (Japan Govt 2Y Simple Yield) Japan interest rates\ \ Daily 25JAN2019-30SEP2025}};
\node[anchor=base west, inner sep=0pt, font=\bbg\fontsize{5.2}{6}\selectfont] at (1207,729) {Copyright\textcopyright\ 2025 Bloomberg Finance L.P.};
\node[anchor=base east, inner sep=0pt, font=\bbg\fontsize{5.2}{6}\selectfont] at (1533,729) {30-Sep-2025 15:58:28};
\node[anchor=base west, inner sep=0pt] at (805,727) {\resizebox{94pt}{!}{\bbg GCNY2YR Index (China Govt Bond Generic Bid Yield 2 Year) China interest rates\ \ Daily 25JAN2019-24MAR2025}};
\node[anchor=base, inner sep=0pt] at (1023,727) {\resizebox{34pt}{!}{\bbg Copyright\textcopyright\ 2025 Bloomberg Finance L.P.}};
\node[anchor=base east, inner sep=0pt] at (1132,727) {\resizebox{24pt}{!}{\bbg 24-Mar-2025 13:46:05}};
% footer
\node[anchor=base east, inner sep=0pt, font=\arialf\itshape\fontsize{10}{11}\selectfont] at (1587,799) {Source for charts: Bloomberg, StoneX};
\node[anchor=base west, inner sep=0pt, text=black!90!navy, font=\tnr\fontsize{29.5}{31}\selectfont] at (73,851) {StoneX\raisebox{17pt}{\fontsize{5}{5}\selectfont\textregistered}};
\node[anchor=base, inner sep=0pt, font=\fontsize{15}{16}\selectfont] at (1491,851) {38};
\node[anchor=base west, inner sep=0pt, font=\fontsize{13}{14}\selectfont] at (1059,879) {Precious Metals Front Desk Presentation, 3 October 2025|};
\end{scope}
\end{tikzpicture}
\end{document}
